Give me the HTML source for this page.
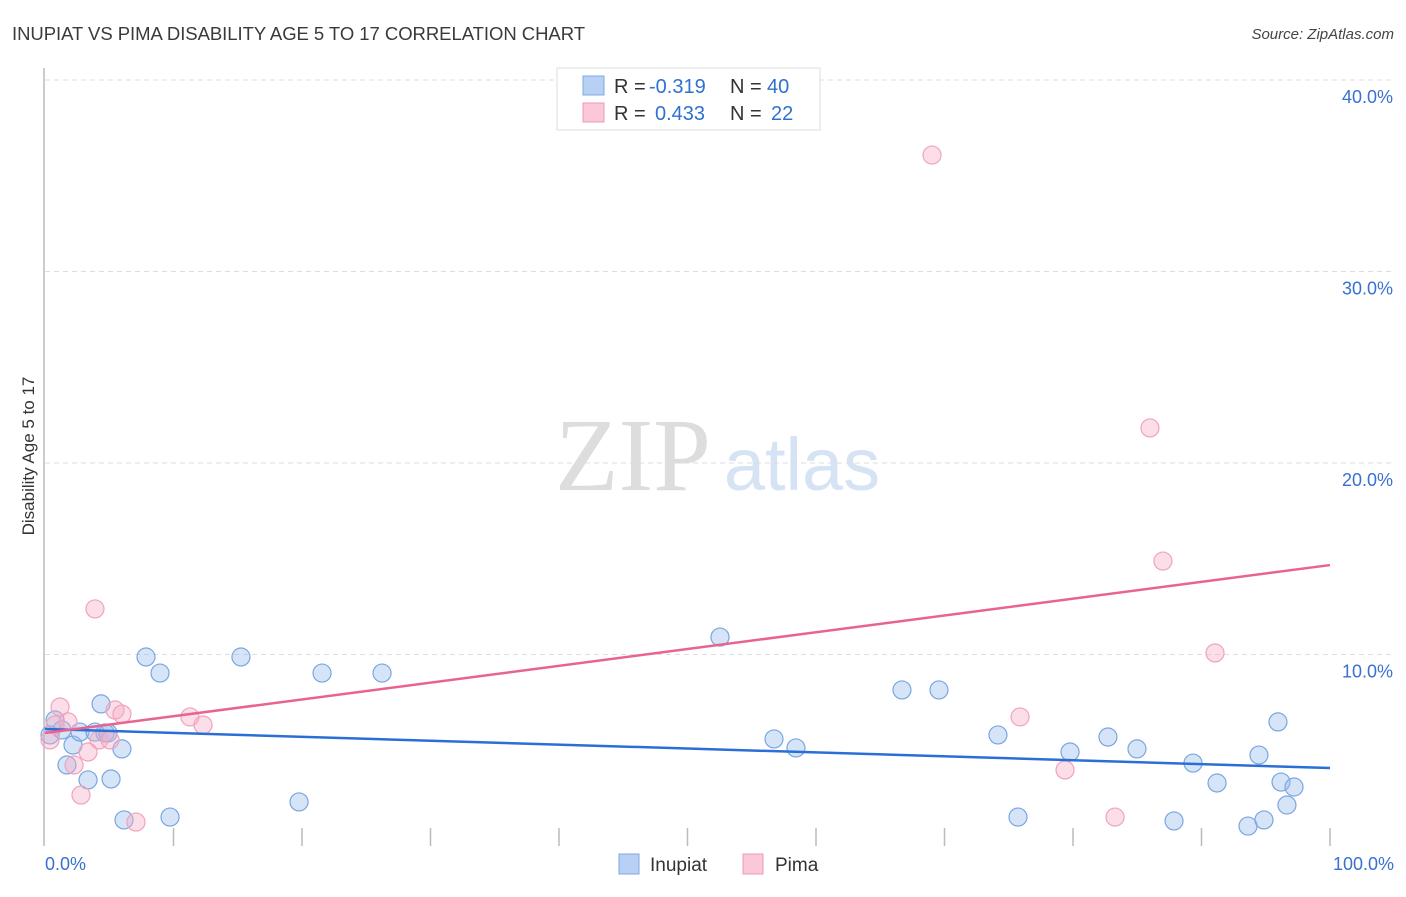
<!DOCTYPE html>
<html><head><meta charset="utf-8"><style>
body{margin:0;background:#fff;font-family:"Liberation Sans",sans-serif;}
svg text{font-family:"Liberation Sans",sans-serif;}
</style></head><body>
<svg id="c" width="1406" height="892">
<text x="12" y="40" font-size="18.5" fill="#3a3a3a" textLength="573">INUPIAT VS PIMA DISABILITY AGE 5 TO 17 CORRELATION CHART</text>
<text x="1394" y="39" font-size="15" fill="#444" font-style="italic" text-anchor="end">Source: ZipAtlas.com</text>
<text x="34" y="456" font-size="17" fill="#333" text-anchor="middle" transform="rotate(-90 34 456)">Disability Age 5 to 17</text>
<text x="633" y="490" font-size="104" fill="#ddd" text-anchor="middle" style="font-family:'Liberation Serif',serif">ZIP</text>
<text x="802" y="490" font-size="74" fill="#d5e3f5" text-anchor="middle">atlas</text>
<g id="grid"></g><g id="pts"></g><g id="lines"></g>
<g>
<rect x="557" y="68" width="263" height="62" fill="#fff" stroke="#ddd"/>
<rect x="583" y="76" width="21" height="19" fill="#b8d0f3" stroke="#7fa8e0"/>
<rect x="583" y="103" width="21" height="19" fill="#fac8d8" stroke="#ee9ab5"/>
<text x="614" y="93" font-size="20" fill="#333">R = <tspan fill="#3070d0" x="649">-0.319</tspan><tspan x="730">N = </tspan><tspan fill="#3070d0" x="767">40</tspan></text>
<text x="614" y="120" font-size="20" fill="#333">R = <tspan fill="#3070d0" x="655">0.433</tspan><tspan x="730">N = </tspan><tspan fill="#3070d0" x="771">22</tspan></text>
</g>
<g>
<rect x="619" y="854" width="20" height="20" fill="#b8d0f3" stroke="#7fa8e0"/>
<text x="650" y="871" font-size="19" fill="#333">Inupiat</text>
<rect x="743" y="854" width="20" height="20" fill="#fac8d8" stroke="#ee9ab5"/>
<text x="775" y="871" font-size="19" fill="#333">Pima</text>
</g>
<text x="45" y="870" font-size="18" fill="#3a70d0">0.0%</text>
<text x="1394" y="870" font-size="18" fill="#3a70d0" text-anchor="end">100.0%</text>
</svg>
<script>
const yTicks=[10,20,30,40];
const yTickLabels=["10.0%","20.0%","30.0%","40.0%"];
const inupiatX=[0.78,0.39,1.32,1.71,2.18,2.72,3.35,3.89,4.36,4.67,4.90,5.14,5.99,6.15,7.86,8.95,9.73,15.25,19.77,21.56,26.23,52.53,56.73,58.44,66.69,69.57,74.16,75.72,79.77,82.72,84.98,87.86,89.34,91.21,93.62,94.47,94.86,95.95,96.19,96.65,97.20];
const inupiatY=[6.58,5.80,6.06,4.23,5.27,5.95,3.45,5.95,7.42,5.90,5.90,3.50,5.07,1.36,9.87,9.03,1.51,9.87,2.30,9.03,9.03,10.91,5.59,5.12,8.15,8.15,5.80,1.51,4.91,5.69,5.07,1.31,4.33,3.29,1.04,4.75,1.36,6.48,3.34,2.14,3.08];
const pimaX=[0.39,0.78,1.17,1.79,2.26,2.80,3.35,3.89,4.20,5.06,5.45,5.99,7.08,11.28,12.30,69.03,75.88,79.38,83.27,85.99,87.00,91.05];
const pimaY=[5.54,6.32,7.26,6.48,4.23,2.66,4.91,12.38,5.54,5.54,7.10,6.89,1.25,6.74,6.32,36.08,6.74,3.97,1.51,21.83,14.88,10.08];
const inupiatLine=[6.11,4.07];
const pimaLine=[5.90,14.67];
const NS="http://www.w3.org/2000/svg";
const X=v=>45+v*12.85, Y=v=>846-v*19.15;
function mk(t,a,p){const e=document.createElementNS(NS,t);for(const k in a)e.setAttribute(k,a[k]);p.appendChild(e);return e;}
const grid=document.getElementById('grid');
let ax=mk('line',{x1:44,y1:68,x2:44,y2:846,stroke:'#bbb','stroke-width':1.5},grid);


yTicks.forEach((t,i)=>{
 const l=mk('line',{x1:45,x2:1395,y1:Y(t),y2:Y(t),stroke:'#ddd','stroke-dasharray':'5,4'},grid);
 
 
 const tx=mk('text',{x:1393,y:Y(t)+23,'font-size':18,fill:'#3a70d0','text-anchor':'end'},grid);
 tx.textContent=yTickLabels[i];
 
 
});
for(let i=1;i<=10;i++){
 const l=mk('line',{x1:X(i*10),x2:X(i*10),y1:828,y2:846,stroke:'#bbb','stroke-width':1.5},grid);
 
 
}
const pts=document.getElementById('pts');
function dots(xs,ys,fill,stroke,name){xs.forEach((x,i)=>{
 const c=mk('circle',{cx:X(x),cy:Y(ys[i]),r:9,fill:fill,stroke:stroke,'stroke-width':1.2},pts);
 
 
});}
dots(inupiatX,inupiatY,'rgba(150,188,236,0.4)','#7aa6e2','inupiat-point');
dots(pimaX,pimaY,'rgba(246,172,198,0.4)','#f0a3bd','pima-point');
const lines=document.getElementById('lines');
let b=mk('line',{x1:X(0),y1:Y(inupiatLine[0]),x2:X(100),y2:Y(inupiatLine[1]),stroke:'#2b6fd6','stroke-width':2.5},lines);


let p=mk('line',{x1:X(0),y1:Y(pimaLine[0]),x2:X(100),y2:Y(pimaLine[1]),stroke:'#e8648f','stroke-width':2.5},lines);


</script>
</body></html>
